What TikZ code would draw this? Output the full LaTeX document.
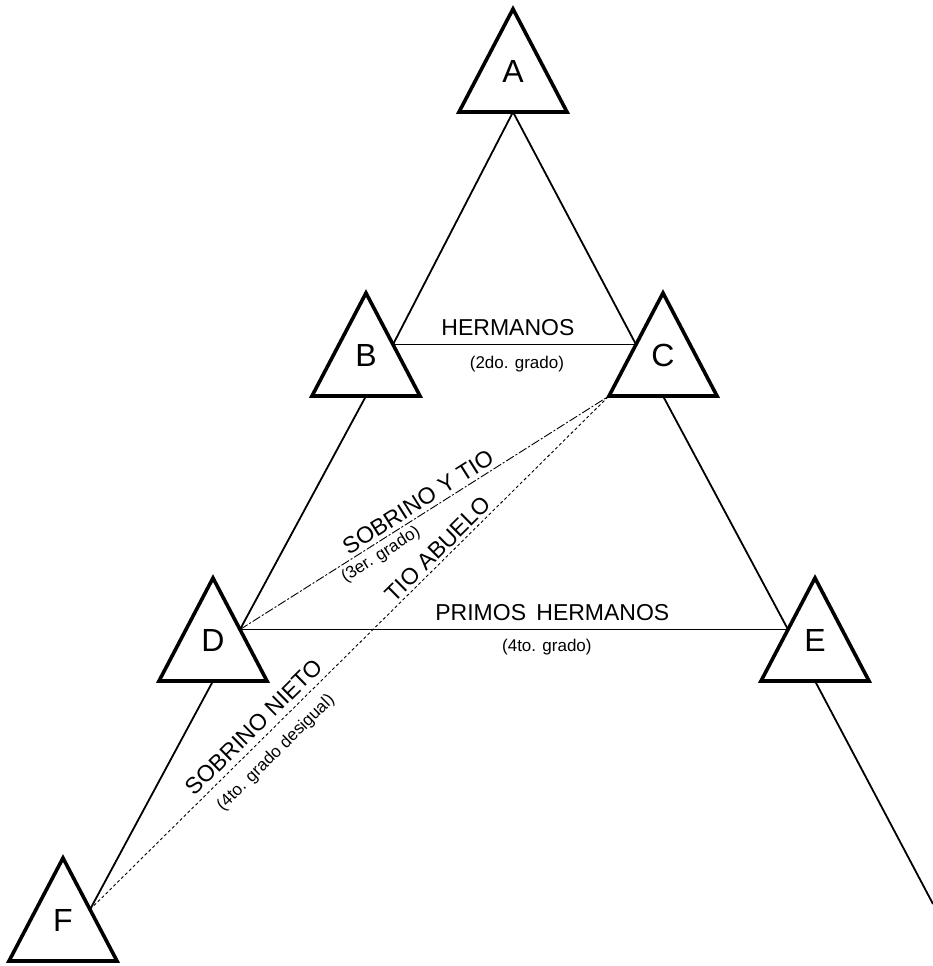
\documentclass[tikz,border=0pt]{standalone}
\usepackage{fontspec}
\setmainfont{Liberation Sans}
\usetikzlibrary{calc}
\newcommand\tricoords[3]{%
  \coordinate (#1-t)  at (#2,#3);
  \coordinate (#1-bl) at (#2-54,#3+103);
  \coordinate (#1-br) at (#2+54,#3+103);
  \coordinate (#1-b)  at (#2,#3+103);
  \coordinate (#1-l)  at (#2-27,#3+51.5);
  \coordinate (#1-r)  at (#2+27,#3+51.5);
}
\newcommand\famtri[2]{%
  \filldraw[tri] (#1-t) -- (#1-br) -- (#1-bl) -- cycle;
  \node[letter] (#1) at ($(#1-t)+(0,62)$) {#2};
}
\begin{document}
\begin{tikzpicture}[x=1pt,y=-1pt,
  tri/.style={draw=black, fill=white, line width=3.6pt, line join=miter},
  kin/.style={line width=1.8pt},
  rel/.style={line width=1.5pt},
  dashrel/.style={line width=0.9pt, dash pattern=on 9pt off 2pt on 2pt off 2pt},
  dotrel/.style={line width=0.9pt, dash pattern=on 3pt off 2.5pt},
  letter/.style={inner sep=0pt, font=\fontsize{32}{32}\selectfont},
  biglab/.style={inner sep=0pt, font=\fontsize{23}{23}\selectfont},
  smalllab/.style={inner sep=0pt, font=\fontsize{17}{17}\selectfont},
]
\useasboundingbox (0,0) rectangle (933,966);
\tricoords{A}{513}{9}
\tricoords{B}{366}{293}
\tricoords{C}{663}{293}
\tricoords{D}{213}{578}
\tricoords{E}{815}{578}
\tricoords{F}{63}{858}
\coordinate (Eend) at (933,904);
% descent lines
\draw[kin] (A-b) -- (B-r);
\draw[kin] (A-b) -- (C-l);
\draw[kin] (B-b) -- (D-r);
\draw[kin] (C-b) -- (E-l);
\draw[kin] (D-b) -- (F-r);
\draw[kin] (E-b) -- (Eend);
% relations
\draw[rel] (B-r) -- node[pos=0.473, biglab, above=8pt] (lh) {HERMANOS}
                    node[pos=0.51, smalllab, below=11pt] (lh2) {(2do. grado)} (C-l);
\draw[rel] (D-r) -- node[pos=0.57, biglab, above=8pt] (lp) {PRIMOS\hspace{0.45em}HERMANOS}
                    node[pos=0.56, smalllab, below=9pt] (lp2) {(4to. grado)} (E-l);
\draw[dashrel] (D-r) -- (C-bl);
\draw[dotrel] (F-r) -- (C-bl);
% diagonal labels
\node[biglab, rotate=32.3] (ls) at (418,502) {SOBRINO\hspace{0.3em}Y\hspace{0.3em}TIO};
\node[smalllab, rotate=32.3] (ls2) at (381,555) {(3er. grado)};
\node[biglab, rotate=44.7] (lt) at (438,549) {TIO ABUELO};
\node[biglab, rotate=44.7] (ln) at (254,727) {SOBRINO NIETO};
\node[smalllab, rotate=44.7] (ln2) at (276,753) {(4to. grado desigual)};
% persons
\famtri{A}{A}
\famtri{B}{B}
\famtri{C}{C}
\famtri{D}{D}
\famtri{E}{E}
\famtri{F}{F}
\end{tikzpicture}
\end{document}
